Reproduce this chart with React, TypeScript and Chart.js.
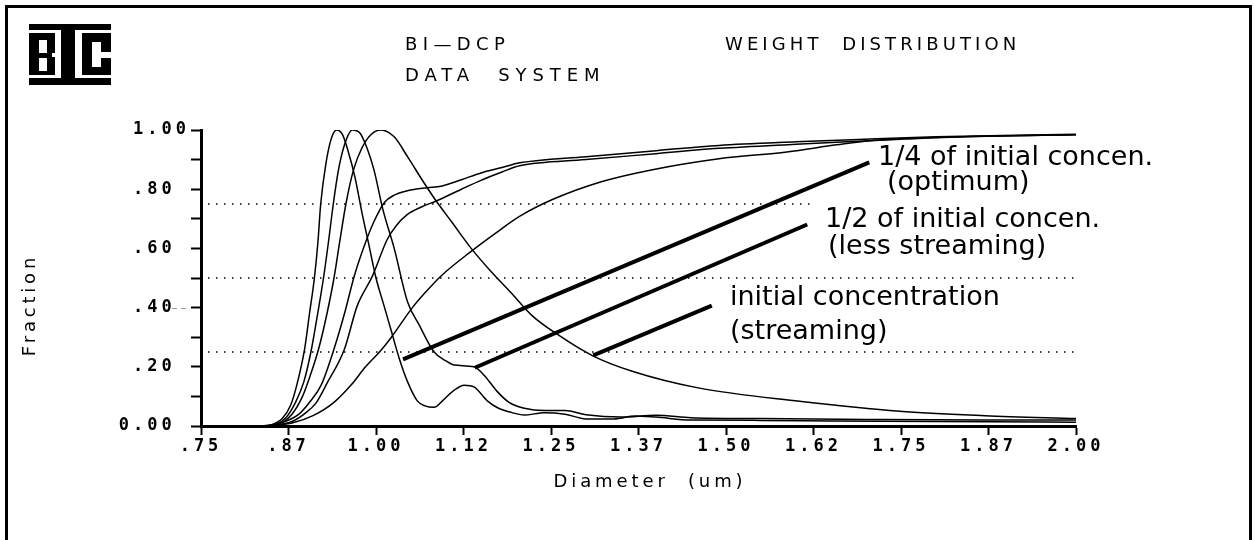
import { useEffect, useRef } from 'react';
import { Chart, registerables } from 'chart.js';

Chart.register(...registerables);

// ---- axis ticks ----
const xTickLabels = ['.75', '.87', '1.00', '1.12', '1.25', '1.37', '1.50', '1.62', '1.75', '1.87', '2.00'];
const yTickLabels = ['0.00 ', '', '.20 ', '', '.40 ', '', '.60 ', '', '.80 ', '', '1.00'];

// ---- distribution curves: [diameter um, fraction] ----
const peakNarrow: number[][] = [
  [0.835, 0], [0.85, 0.004], [0.866, 0.025], [0.878, 0.07], [0.887, 0.14], [0.898, 0.26], [0.905, 0.38],
  [0.912, 0.5], [0.917, 0.62], [0.921, 0.75], [0.928, 0.88], [0.936, 0.97], [0.944, 1.0], [0.952, 0.985],
  [0.96, 0.93], [0.97, 0.84], [0.98, 0.72], [0.99, 0.61], [1.0, 0.5], [1.011, 0.41], [1.022, 0.32],
  [1.033, 0.23], [1.045, 0.15], [1.059, 0.085], [1.07, 0.068], [1.083, 0.063], [1.095, 0.085], [1.11, 0.118],
  [1.126, 0.138], [1.14, 0.132], [1.159, 0.085], [1.175, 0.06], [1.19, 0.048], [1.212, 0.037], [1.24, 0.045],
  [1.27, 0.04], [1.3, 0.024], [1.34, 0.024], [1.37, 0.034], [1.4, 0.03], [1.45, 0.02], [1.55, 0.019],
  [1.65, 0.017], [1.8, 0.015], [2.0, 0.013],
];
const peakMid: number[][] = [
  [0.84, 0], [0.857, 0.006], [0.872, 0.03], [0.885, 0.08], [0.897, 0.15], [0.907, 0.25], [0.916, 0.37],
  [0.925, 0.5], [0.932, 0.62], [0.939, 0.75], [0.946, 0.86], [0.955, 0.95], [0.966, 1.0], [0.977, 0.99],
  [0.987, 0.94], [0.997, 0.866], [1.01, 0.73], [1.026, 0.6], [1.045, 0.42], [1.062, 0.34], [1.083, 0.25],
  [1.1, 0.22], [1.112, 0.206], [1.14, 0.2], [1.155, 0.17], [1.173, 0.117], [1.19, 0.08], [1.212, 0.06],
  [1.24, 0.052], [1.27, 0.052], [1.3, 0.038], [1.35, 0.03], [1.4, 0.036], [1.45, 0.028], [1.55, 0.025],
  [1.7, 0.022], [1.87, 0.02], [2.0, 0.02],
];
const peakBroad: number[][] = [
  [0.845, 0], [0.862, 0.008], [0.88, 0.04], [0.895, 0.1], [0.906, 0.17], [0.918, 0.26], [0.93, 0.38],
  [0.94, 0.5], [0.948, 0.62], [0.957, 0.75], [0.968, 0.866], [0.98, 0.94], [0.993, 0.985], [1.007, 1.0],
  [1.026, 0.977], [1.045, 0.91], [1.069, 0.82], [1.086, 0.76], [1.108, 0.69], [1.136, 0.6], [1.165, 0.52],
  [1.193, 0.45], [1.223, 0.373], [1.262, 0.305], [1.309, 0.238], [1.366, 0.185], [1.462, 0.128],
  [1.605, 0.084], [1.748, 0.05], [1.87, 0.035], [2.0, 0.025],
];
const cumFast: number[][] = [
  [0.845, 0], [0.87, 0.015], [0.89, 0.04], [0.905, 0.08], [0.922, 0.14], [0.94, 0.26], [0.955, 0.38],
  [0.969, 0.507], [0.985, 0.62], [0.997, 0.69], [1.012, 0.755], [1.026, 0.78], [1.045, 0.795],
  [1.073, 0.805], [1.093, 0.81], [1.122, 0.832], [1.15, 0.855], [1.18, 0.873], [1.205, 0.889],
  [1.3, 0.91], [1.4, 0.93], [1.49, 0.948], [1.6, 0.96], [1.68, 0.967], [1.8, 0.977], [2.0, 0.986],
];
const cumMid: number[][] = [
  [0.85, 0], [0.88, 0.015], [0.9, 0.045], [0.915, 0.08], [0.929, 0.14], [0.955, 0.26], [0.973, 0.405],
  [0.995, 0.507], [1.016, 0.63], [1.03, 0.68], [1.045, 0.715], [1.065, 0.74], [1.086, 0.76], [1.122, 0.8],
  [1.15, 0.83], [1.18, 0.858], [1.205, 0.879], [1.3, 0.9], [1.4, 0.92], [1.49, 0.938], [1.6, 0.952],
  [1.68, 0.961], [1.75, 0.969], [1.85, 0.978], [2.0, 0.984],
];
const cumSlow: number[][] = [
  [0.85, 0], [0.88, 0.01], [0.91, 0.035], [0.94, 0.08], [0.965, 0.14], [0.985, 0.2], [1.005, 0.25],
  [1.022, 0.3], [1.052, 0.4], [1.07, 0.45], [1.093, 0.507], [1.136, 0.59], [1.17, 0.65], [1.205, 0.708],
  [1.252, 0.765], [1.323, 0.826], [1.395, 0.866], [1.49, 0.903], [1.587, 0.926], [1.658, 0.95],
  [1.705, 0.964], [1.8, 0.975], [2.0, 0.984],
];

// ---- dotted reference levels (fraction) and where each stops (um) ----
const guideLevels = [0.25, 0.5, 0.75];
const guideStarts = [0.76, 0.76, 0.76];
const guideEnds = [2.0, 2.0, 1.625];

// ---- annotation pointer lines: [x1, y1, x2, y2] in data units ----
const pointerQuarter = [1.0386, 0.2248, 1.7047, 0.8905];
const pointerHalf = [1.1412, 0.1968, 1.616, 0.6808];
const pointerInitial = [1.3104, 0.2383, 1.4797, 0.4068];

// ---- annotation text ----
const annotationLines = [
  '1/4 of initial concen.', '(optimum)',
  '1/2 of initial concen.', '(less streaming)',
  'initial concentration', '(streaming)',
];

const toPts = (arr: number[][]) => arr.map(([x, y]) => ({ x, y }));
const seg = (a: number[]) => [{ x: a[0], y: a[1] }, { x: a[2], y: a[3] }];

const decor = {
  id: 'decor',
  beforeDraw(chart: any) {
    const ctx = chart.ctx;
    ctx.save();
    ctx.fillStyle = '#fff';
    ctx.fillRect(0, 0, chart.width, chart.height);
    ctx.restore();
    ctx.letterSpacing = '4px';
  },
  afterDraw(chart: any) {
    const ctx = chart.ctx;
    ctx.save();
    ctx.letterSpacing = '0px';
    // page frame
    ctx.strokeStyle = '#000';
    ctx.lineWidth = 3;
    ctx.beginPath();
    ctx.moveTo(6.5, 545);
    ctx.lineTo(6.5, 6.5);
    ctx.lineTo(1250.5, 6.5);
    ctx.lineTo(1250.5, 545);
    ctx.stroke();

    // logo
    ctx.fillStyle = '#000';
    ctx.fillRect(29, 24, 82, 6);
    ctx.fillRect(29, 78, 82, 7);
    ctx.fillRect(29, 33, 26, 42);
    ctx.fillRect(61, 30, 14, 48);
    ctx.fillRect(82, 33, 29, 42);
    ctx.fillStyle = '#fff';
    ctx.fillRect(39, 40, 8, 13);
    ctx.fillRect(39, 58, 8, 13);
    ctx.fillRect(52, 53, 3, 4);
    ctx.fillRect(92, 42, 9, 25);
    ctx.fillRect(101, 52, 10, 6);

    // header
    ctx.fillStyle = '#000';
    ctx.textBaseline = 'alphabetic';
    ctx.textAlign = 'left';
    ctx.font = "18px 'DejaVu Sans'";
    ctx.letterSpacing = '5.4px';
    ctx.fillText('BI\u2014DCP', 405, 50);
    ctx.letterSpacing = '5.9px';
    ctx.fillText('DATA  SYSTEM', 405, 81);
    ctx.letterSpacing = '4.1px';
    ctx.fillText('WEIGHT  DISTRIBUTION', 725, 50);

    // axis titles
    ctx.textAlign = 'center';
    ctx.letterSpacing = '3.9px';
    ctx.fillText('Diameter  (um)', 650, 487);
    ctx.save();
    ctx.translate(35, 305);
    ctx.rotate(-Math.PI / 2);
    ctx.letterSpacing = '3.8px';
    ctx.fillText('Fraction', 0, 0);
    ctx.restore();

    // faint dash artefact near .40
    ctx.strokeStyle = '#999';
    ctx.lineWidth = 1;
    ctx.beginPath();
    ctx.moveTo(172, 308.5); ctx.lineTo(177, 308.5);
    ctx.moveTo(181, 308.5); ctx.lineTo(186, 308.5);
    ctx.stroke();

    // annotations
    ctx.letterSpacing = '0px';
    ctx.textAlign = 'left';
    ctx.fillStyle = '#000';
    ctx.font = "27px 'DejaVu Sans'";
    const pos = [[878, 165], [887, 190], [825, 227], [828, 254], [730, 305], [730, 339]];
    annotationLines.forEach((t, i) => ctx.fillText(t, pos[i][0], pos[i][1]));
    ctx.restore();
  },
};

export default function App() {
  const ref = useRef<HTMLCanvasElement>(null);
  useEffect(() => {
    document.body.style.margin = '0';
    const curve = (d: number[][]) => ({
      data: toPts(d),
      showLine: true,
      borderColor: '#000',
      borderWidth: 1.5,
      pointRadius: 0,
      cubicInterpolationMode: 'monotone' as const,
      fill: false,
    });
    const pointer = (a: number[]) => ({
      data: seg(a),
      showLine: true,
      borderColor: '#000',
      borderWidth: 4,
      pointRadius: 0,
      fill: false,
    });
    const guides = guideLevels.map((lv, i) => ({
      data: [{ x: guideStarts[i], y: lv }, { x: guideEnds[i], y: lv }],
      showLine: true,
      borderColor: '#000',
      borderWidth: 1.5,
      borderDash: [1.5, 6.5],
      pointRadius: 0,
      fill: false,
    }));
    const tickFont = { family: "'DejaVu Sans Mono', monospace", size: 17, weight: 'bold' as const };
    const chart = new Chart(ref.current!, {
      type: 'scatter',
      data: {
        datasets: [
          ...guides,
          curve(peakNarrow), curve(peakMid), curve(peakBroad),
          curve(cumFast), curve(cumMid), curve(cumSlow),
          pointer(pointerQuarter), pointer(pointerHalf), pointer(pointerInitial),
        ] as any,
      },
      options: {
        responsive: false,
        animation: false,
        events: [],
        layout: { padding: { left: 0, top: 130, right: 181, bottom: 0 } },
        plugins: { legend: { display: false }, tooltip: { enabled: false }, title: { display: false } },
        scales: {
          x: {
            type: 'linear',
            min: 0.75,
            max: 2.0,
            afterFit: (s: any) => { s.height = 114; },
            ticks: {
              stepSize: 0.125,
              autoSkip: false,
              maxRotation: 0,
              minRotation: 0,
              padding: 1,
              color: '#000',
              font: tickFont,
              callback: (_v: any, i: number) => xTickLabels[i] ?? '',
            },
            grid: { drawOnChartArea: false, drawTicks: true, tickLength: 9, tickWidth: 2, tickColor: '#000', color: '#000' },
            border: { display: true, width: 3, color: '#000' },
          },
          y: {
            type: 'linear',
            min: 0,
            max: 1,
            afterFit: (s: any) => { s.width = 201; },
            ticks: {
              stepSize: 0.1,
              autoSkip: false,
              padding: 1,
              color: '#000',
              font: tickFont,
              callback: (_v: any, i: number) => yTickLabels[i] ?? '',
            },
            grid: { drawOnChartArea: false, drawTicks: true, tickLength: 10, tickWidth: 2, tickColor: '#000', color: '#000' },
            border: { display: true, width: 3, color: '#000' },
          },
        },
      } as any,
      plugins: [decor],
    });
    return () => chart.destroy();
  }, []);
  return (
    <div style={{ width: 1257, height: 540, background: '#fff' }}>
      <canvas ref={ref} width={1257} height={540} style={{ display: 'block' }} />
    </div>
  );
}
